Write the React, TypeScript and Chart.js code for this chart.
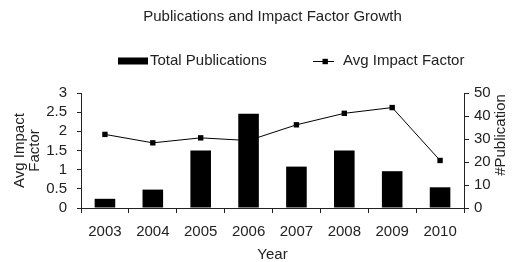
import React, { useEffect, useRef } from "react";
import { Chart, registerables } from "chart.js";

Chart.register(...registerables);

const years = ["2003", "2004", "2005", "2006", "2007", "2008", "2009", "2010"];
const totalPublications = [4, 8, 25, 41, 18, 25, 16, 9];
const avgImpactFactor = [1.92, 1.7, 1.83, 1.76, 2.17, 2.47, 2.62, 1.24];
const chartTitle = "Publications and Impact Factor Growth";
const barLabel = "Total Publications";
const lineLabel = "Avg Impact Factor";
const leftAxisTitle = ["Avg Impact", "Factor"];
const rightAxisTitle = "#Publication";
const xAxisTitle = "Year";

const FONT = "'Liberation Sans', Arial, sans-serif";
const TEXT = "#222";
const AXIS = "#222";

const decor = {
  id: "decor",
  afterDraw(chart: any) {
    const { ctx, chartArea } = chart;
    ctx.save();
    ctx.fillStyle = TEXT;
    ctx.font = `15px ${FONT}`;
    ctx.textBaseline = "middle";
    // title
    ctx.textAlign = "center";
    ctx.fillText(chartTitle, (chartArea.left + chartArea.right) / 2, 17);
    // legend
    ctx.textAlign = "left";
    ctx.fillStyle = "#000";
    ctx.fillRect(118, 57.5, 30, 7);
    ctx.fillStyle = TEXT;
    ctx.fillText(barLabel, 150, 61);
    ctx.strokeStyle = "#000";
    ctx.lineWidth = 1;
    ctx.beginPath();
    ctx.moveTo(313, 61.5);
    ctx.lineTo(334, 61.5);
    ctx.stroke();
    ctx.fillStyle = "#000";
    ctx.fillRect(322.5, 58.8, 5.4, 5.4);
    ctx.fillStyle = TEXT;
    ctx.fillText(lineLabel, 343, 61);
    // right axis title
    ctx.translate(501, 135);
    ctx.rotate(-Math.PI / 2);
    ctx.textAlign = "center";
    ctx.fillText(rightAxisTitle, 0, 0);
    ctx.restore();
  },
};

export default function App() {
  const ref = useRef<HTMLCanvasElement>(null);
  useEffect(() => {
    document.body.style.margin = "0";
    const font = { family: FONT, size: 15 };
    const chart = new Chart(ref.current as HTMLCanvasElement, {
      type: "bar",
      data: {
        labels: years,
        datasets: [
          {
            type: "bar",
            label: barLabel,
            data: totalPublications,
            backgroundColor: "#000",
            yAxisID: "y1",
            categoryPercentage: 1,
            barPercentage: 0.43,
            order: 0,
          },
          {
            type: "line",
            label: lineLabel,
            data: avgImpactFactor,
            borderColor: "#000",
            backgroundColor: "#000",
            borderWidth: 1,
            pointStyle: "rect",
            pointRadius: 3.8,
            pointBorderWidth: 0,
            yAxisID: "y",
            order: 1,
          } as any,
        ],
      },
      options: {
        responsive: false,
        animation: false,
        layout: { padding: { top: 93, left: 0, right: 0, bottom: 0 } },
        plugins: {
          legend: { display: false },
          title: { display: false },
          tooltip: { enabled: false },
        },
        scales: {
          x: {
            offset: true,
            grid: { display: true, offset: true, drawOnChartArea: false, tickLength: 5, color: AXIS },
            border: { display: true, color: AXIS },
            ticks: { font, color: TEXT, padding: 10, maxRotation: 0, autoSkip: false },
            title: { display: true, text: xAxisTitle, font: { ...font, lineHeight: 1 }, color: TEXT, padding: { top: 0, bottom: 0 } },
            afterFit: (s: any) => {
              s.height = 54;
            },
          },
          y: {
            position: "left",
            min: 0,
            max: 3,
            ticks: { stepSize: 0.5, font, color: TEXT, padding: 10, autoSkip: false, callback: (v: any) => String(v) },
            grid: { display: true, drawOnChartArea: false, tickLength: 4, color: AXIS },
            border: { display: true, color: AXIS },
            title: { display: true, text: leftAxisTitle, font: { ...font, lineHeight: 1 }, color: TEXT, padding: { top: 12.5, bottom: 0 } },
            afterFit: (s: any) => {
              s.width = 81;
            },
          },
          y1: {
            position: "right",
            min: 0,
            max: 50,
            ticks: { stepSize: 10, font, color: TEXT, padding: 5, autoSkip: false, callback: (v: any) => String(v) },
            grid: { display: true, drawOnChartArea: false, tickLength: 5, color: AXIS },
            border: { display: true, color: AXIS },
            afterFit: (s: any) => {
              s.width = 48;
            },
          },
        },
      } as any,
      plugins: [decor],
    });
    return () => chart.destroy();
  }, []);
  return (
    <div style={{ width: 512, height: 262 }}>
      <canvas ref={ref} width={512} height={262} style={{ display: "block" }} />
    </div>
  );
}
